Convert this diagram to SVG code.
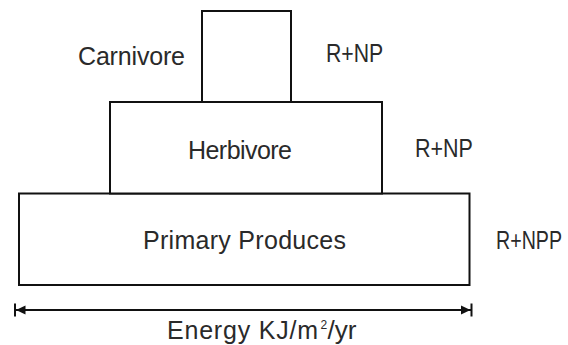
<svg xmlns="http://www.w3.org/2000/svg" width="568" height="345" viewBox="0 0 568 345">
  <defs>
    <style>
      .box { fill: #ffffff; stroke: #111111; stroke-width: 2; }
      .lbl { font-family: "Liberation Sans", Arial, sans-serif; font-size: 25px; fill: #2a2a2a; }
      .axis { stroke: #111111; stroke-width: 2; fill: none; }
      .head { fill: #111111; stroke: none; }
    </style>
  </defs>
  <rect width="568" height="345" fill="#ffffff"/>

  <!-- pyramid levels -->
  <g id="primary-produces">
    <rect class="box" x="19" y="193.5" width="450.5" height="91.5"/>
    <text class="lbl" x="143" y="249" textLength="203">Primary Produces</text>
  </g>
  <g id="herbivore">
    <rect class="box" x="110" y="102" width="272" height="91.5"/>
    <text class="lbl" x="188" y="159" textLength="104">Herbivore</text>
  </g>
  <g id="carnivore">
    <rect class="box" x="202" y="11" width="89" height="91"/>
    <text class="lbl" x="78" y="65" textLength="107">Carnivore</text>
  </g>

  <!-- energy partition labels, horizontally condensed -->
  <g id="carnivore-energy" transform="translate(326,62) scale(0.85,1)">
    <text class="lbl" x="0" y="0">R+NP</text>
  </g>
  <g id="herbivore-energy" transform="translate(415,157) scale(0.86,1)">
    <text class="lbl" x="0" y="0">R+NP</text>
  </g>
  <g id="producer-energy" transform="translate(496,249) scale(0.785,1)">
    <text class="lbl" x="0" y="0">R+NPP</text>
  </g>

  <!-- energy axis -->
  <g id="connectors">
    <line class="axis" x1="16" y1="310" x2="471" y2="310"/>
    <line class="axis" x1="15" y1="303.5" x2="15" y2="316.5"/>
    <line class="axis" x1="471.5" y1="303.5" x2="471.5" y2="316.5"/>
    <polygon class="head" points="16,310 25.5,305.5 25.5,314.5"/>
    <polygon class="head" points="470.5,310 461,305.5 461,314.5"/>
  </g>
  <g id="axis-label">
    <text class="lbl" y="338.5"><tspan x="167" textLength="151">Energy KJ/m</tspan><tspan x="320.5" y="329" font-size="12">2</tspan><tspan x="327.5" y="338.5" textLength="29" lengthAdjust="spacingAndGlyphs">/yr</tspan></text>
  </g>
</svg>
